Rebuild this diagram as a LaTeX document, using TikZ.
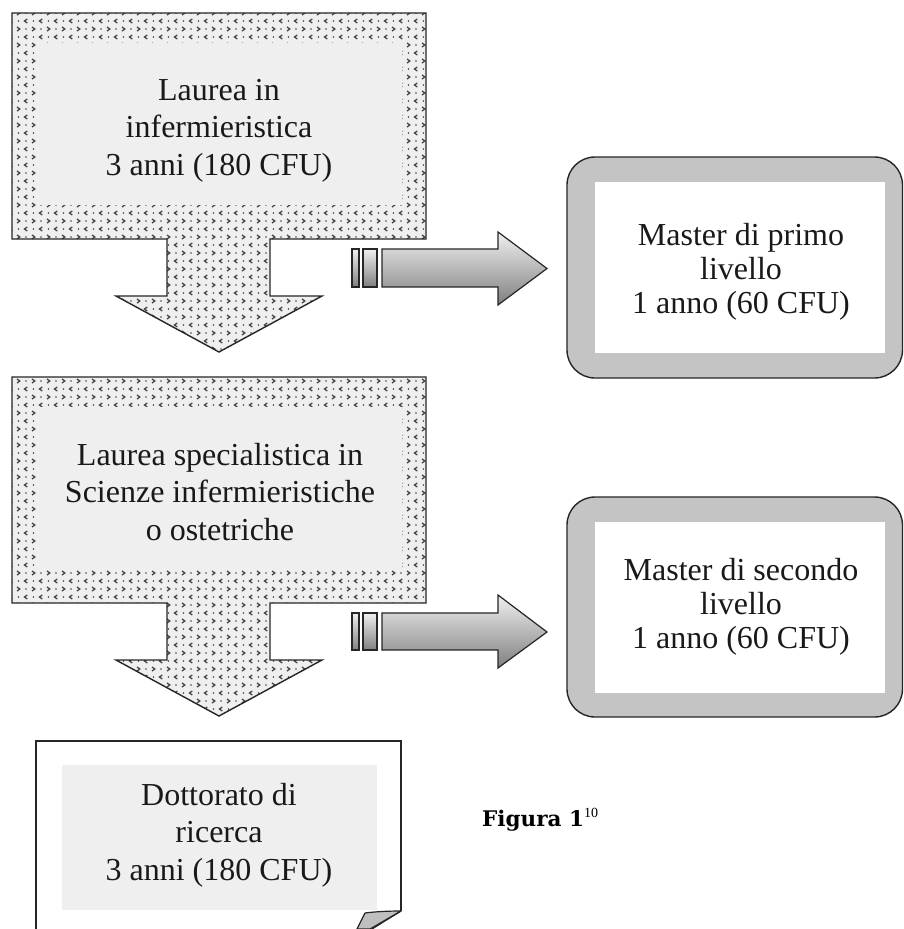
\documentclass[tikz,border=0pt]{standalone}
\usepackage{fontspec}
\setmainfont{Liberation Serif}
\newfontfamily\figfont{DejaVu Serif}
\usetikzlibrary{patterns}
\pgfdeclarepatternformonly{chevs}{\pgfpoint{-1pt}{-1pt}}{\pgfpoint{16pt}{17pt}}{\pgfpoint{15pt}{16pt}}{%
  \pgfsetlinewidth{1.3pt}%
  \pgfpathmoveto{\pgfpoint{2pt}{2pt}}\pgfpathlineto{\pgfpoint{4.8pt}{4pt}}\pgfpathlineto{\pgfpoint{2pt}{6pt}}%
  \pgfpathmoveto{\pgfpoint{12.3pt}{10pt}}\pgfpathlineto{\pgfpoint{9.5pt}{12pt}}\pgfpathlineto{\pgfpoint{12.3pt}{14pt}}%
  \pgfusepath{stroke}%
  \pgfpathcircle{\pgfpoint{11pt}{4pt}}{0.8pt}%
  \pgfpathcircle{\pgfpoint{3.5pt}{12pt}}{0.8pt}%
  \pgfusepath{fill}}
\definecolor{calloutbg}{HTML}{EFEFEF}
\definecolor{framegray}{HTML}{C4C4C4}
\tikzset{
  calloutfill/.style={fill=calloutbg},
  calloutpat/.style={pattern=chevs, pattern color=black!72},
  calloutline/.style={draw=black!85, line width=1.4pt, line join=miter},
  innerfill/.style={fill=calloutbg, draw=none},
  grayarrow/.style={top color=black!6, bottom color=black!50, draw=black!85, line width=1.2pt, line join=miter},
  mframe/.style={fill=framegray, draw=black!85, line width=1.4pt, rounded corners=28pt},
  txt/.style={font=\fontsize{32}{37.5}\selectfont, align=center, inner sep=0pt, text=black!90},
  mtxt/.style={font=\fontsize{32}{34}\selectfont, align=center, inner sep=0pt, text=black!90},
}
\begin{document}
\begin{tikzpicture}[x=1pt,y=-1pt]
\useasboundingbox (0,0) rectangle (904,929);
\fill[white] (0,0) rectangle (904,929);

% ---- callout 1 ----
\def\cOne{(12,13) -- (426,13) -- (426,239) -- (270,239) -- (270,296) -- (322,296) -- (219,352) -- (116,296) -- (167,296) -- (167,239) -- (12,239) -- cycle}
\fill[calloutfill] \cOne;
\fill[calloutpat] \cOne;
\fill[innerfill] (36,43) rectangle (402,205);
\draw[calloutline] \cOne;
\node[txt] (c1) at (219,130.5) {Laurea in\\infermieristica\\3 anni (180 CFU)};

% ---- callout 2 ----
\def\cTwo{(12,377) -- (426,377) -- (426,603) -- (270,603) -- (270,660) -- (322,660) -- (219,716) -- (116,660) -- (167,660) -- (167,603) -- (12,603) -- cycle}
\fill[calloutfill] \cTwo;
\fill[calloutpat] \cTwo;
\fill[innerfill] (36,407) rectangle (402,569);
\draw[calloutline] \cTwo;
\node[txt] (c2) at (220,492) {Laurea specialistica in\\Scienze infermieristiche\\o ostetriche};

% ---- gray arrow 1 ----
\draw[grayarrow] (352,249) rectangle (359,287);
\draw[grayarrow] (363,249) rectangle (377,287);
\draw[grayarrow] (382,249) -- (498,249) -- (498,232) -- (547,268.5) -- (498,305) -- (498,287) -- (382,287) -- cycle;

% ---- gray arrow 2 ----
\draw[grayarrow] (352,613) rectangle (359,650);
\draw[grayarrow] (363,613) rectangle (377,650);
\draw[grayarrow] (382,613) -- (498,613) -- (498,595) -- (547,632) -- (498,668) -- (498,650) -- (382,650) -- cycle;

% ---- master 1 ----
\draw[mframe] (567,157) rectangle (902.5,378);
\fill[white] (595,182) rectangle (885,353);
\node[mtxt] (m1) at (741,272) {Master di primo\\livello\\1 anno (60 CFU)};

% ---- master 2 ----
\draw[mframe] (567,497) rectangle (902.5,717);
\fill[white] (595,522) rectangle (885,693);
\node[mtxt] (m2) at (741,607) {Master di secondo\\livello\\1 anno (60 CFU)};

% ---- document ----
\fill[white] (36,929) -- (36,741) -- (401,741) -- (401,911) -- (365,913) -- (357,929) -- cycle;
\fill[calloutbg] (62,765) rectangle (377,910);
\draw[black!85, line width=1.4pt, line join=miter] (36,931) -- (36,741) -- (401,741) -- (401,911);
\filldraw[fill=black!25, draw=black!85, line width=1.2pt, line join=round]
  (401,911) .. controls (385,911) and (372,912) .. (365,913) -- (357,929) -- (370,929) -- cycle;
\draw[black!85, line width=1.2pt] (401,911) -- (372,929);
\node[txt] (d) at (219,835) {Dottorato di\\ricerca\\3 anni (180 CFU)};

% ---- label ----
\node[anchor=base west, inner sep=0pt] (fig) at (482,826)
  {\figfont\bfseries\fontsize{21.5}{24}\selectfont Figura 1\raisebox{9pt}{\rmfamily\mdseries\fontsize{14}{15}\selectfont 10}};
\end{tikzpicture}
\end{document}
